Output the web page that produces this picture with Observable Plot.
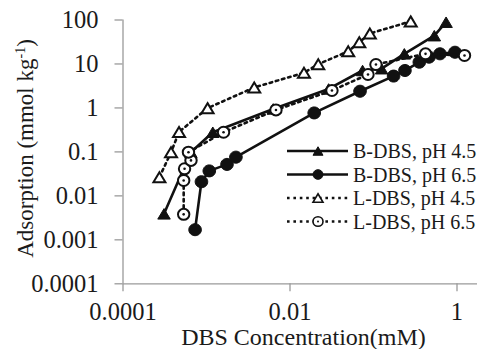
<!DOCTYPE html>
<html>
<head>
<meta charset="utf-8">
<script src="https://cdn.jsdelivr.net/npm/d3@7"></script>
<script src="https://cdn.jsdelivr.net/npm/@observablehq/plot@0.6"></script>
<style>
  html, body { margin: 0; padding: 0; background: #fff; }
  #chart svg { display: block; }
  #chart svg, #chart svg text { font-family: "Times New Roman", serif; }
</style>
</head>
<body>
<div id="chart"></div>
<script>
// DBS concentration (mM) and adsorption (mmol kg-1) per series
const bx45 = [3.1e-4, 6.5e-4, 1.19e-3, 6.3e-3, 0.029, 0.074, 0.125, 0.234, 0.535, 0.74];
const by45 = [0.0039, 0.098, 0.28, 0.95, 2.7, 7.1, 7.8, 17, 44, 89];

const bx65 = [7.3e-4, 8.7e-4, 1.08e-3, 1.76e-3, 2.25e-3, 0.0195, 0.069, 0.174, 0.238, 0.354, 0.462, 0.625, 0.946];
const by65 = [0.0017, 0.021, 0.037, 0.052, 0.076, 0.77, 2.4, 5.3, 7.1, 11, 14.3, 17, 18.5];

const lx45 = [2.73e-4, 3.76e-4, 4.69e-4, 1.03e-3, 3.73e-3, 0.0147, 0.0218, 0.0498, 0.0676, 0.0904, 0.279];
const ly45 = [0.0266, 0.098, 0.284, 0.99, 2.92, 6.3, 9.9, 19.4, 31.3, 49.3, 93];

const lx65 = [5.33e-4, 5.33e-4, 5.46e-4, 6.52e-4, 6.08e-4, 1.6e-3, 6.79e-3, 0.0318, 0.0859, 0.107, 0.42, 1.23];
const ly65 = [0.0038, 0.0224, 0.0413, 0.064, 0.0985, 0.28, 0.9, 2.49, 5.76, 9.73, 17, 15.6];

const seriesNames = ["B-DBS, pH 4.5", "B-DBS, pH 6.5", "L-DBS, pH 4.5", "L-DBS, pH 6.5"];

const xTicks = [1e-4, 1e-2, 1];
const xTickLabels = ["0.0001", "0.01", "1"];
const yTicks = [1e-4, 1e-3, 1e-2, 1e-1, 1, 10, 100];
const yTickLabels = ["0.0001", "0.001", "0.01", "0.1", "1", "10", "100"];

const xLabel = "DBS Concentration(mM)";
const yLabelMain = "Adsorption (mmol kg";
const yLabelSup = "-1";
const yLabelEnd = ")";

// marker shapes
function ellipse(rx, ry) {
  return {
    draw(ctx) {
      const k = 0.5523;
      ctx.moveTo(rx, 0);
      ctx.bezierCurveTo(rx, ry * k, rx * k, ry, 0, ry);
      ctx.bezierCurveTo(-rx * k, ry, -rx, ry * k, -rx, 0);
      ctx.bezierCurveTo(-rx, -ry * k, -rx * k, -ry, 0, -ry);
      ctx.bezierCurveTo(rx * k, -ry, rx, -ry * k, rx, 0);
      ctx.closePath();
    }
  };
}
function triangle(w, h) {
  return {
    draw(ctx) {
      ctx.moveTo(0, -h / 2);
      ctx.lineTo(w / 2, h / 2);
      ctx.lineTo(-w / 2, h / 2);
      ctx.closePath();
    }
  };
}

const toRows = (xs, ys) => xs.map((x, i) => ({x, y: ys[i]}));
const series = [
  {name: seriesNames[0], rows: toRows(bx45, by45), dotted: false, marker: "triFill"},
  {name: seriesNames[1], rows: toRows(bx65, by65), dotted: false, marker: "circFill"},
  {name: seriesNames[2], rows: toRows(lx45, ly45), dotted: true, marker: "triOpen"},
  {name: seriesNames[3], rows: toRows(lx65, ly65), dotted: true, marker: "circOpen"}
];

const axisGray = "#9a9a9a";
const ink = "#111";
const dash = "2.6 3.8";
const serif = '"Times New Roman", serif';

function markerMarks(rows, kind, s) {
  if (kind === "triFill")
    return [Plot.dot(rows, {x: "x", y: "y", symbol: triangle(12.5 * s, 10.5 * s), fill: ink, stroke: ink, strokeWidth: 1})];
  if (kind === "circFill")
    return [Plot.dot(rows, {x: "x", y: "y", symbol: ellipse(6.3 * s, 6 * s), fill: ink, stroke: ink, strokeWidth: 1})];
  if (kind === "triOpen")
    return [Plot.dot(rows, {x: "x", y: "y", symbol: triangle(12 * s, 10 * s), fill: "white", stroke: ink, strokeWidth: 2})];
  return [
    Plot.dot(rows, {x: "x", y: "y", symbol: ellipse(5.7 * s, 5.5 * s), fill: "white", stroke: ink, strokeWidth: 2}),
    Plot.dot(rows, {x: "x", y: "y", r: 1.3, fill: ink, stroke: "none"})
  ];
}

const dataMarks = series.flatMap(sr => [
  Plot.line(sr.rows, {x: "x", y: "y", stroke: ink, strokeWidth: 2.6,
    strokeDasharray: sr.dotted ? dash : null}),
  ...markerMarks(sr.rows, sr.marker, 1)
]);

const chart = Plot.plot({
  width: 477,
  height: 349,
  marginLeft: 122.5,
  marginRight: 0,
  marginTop: 19.5,
  marginBottom: 65.7,
  x: {type: "log", domain: [1e-4, 1.76]},
  y: {type: "log", domain: [1e-4, 100]},
  style: {
    fontFamily: serif,
    fontSize: "24.5px",
    background: "white",
    color: "#1a1a1a"
  },
  marks: [
    Plot.axisX({ticks: xTicks, tickFormat: d => xTickLabels[xTicks.indexOf(d)],
      tickSize: 8, tickPadding: 11, stroke: axisGray, strokeWidth: 1.3, fill: "#1a1a1a",
      fontFamily: serif, label: null}),
    Plot.axisY({ticks: yTicks, tickFormat: d => yTickLabels[yTicks.indexOf(d)],
      tickSize: 8, tickPadding: 16.5, stroke: axisGray, strokeWidth: 1.3, fill: "#1a1a1a",
      fontFamily: serif, label: null}),
    Plot.ruleX([1e-4], {y1: 1e-4, y2: 100, stroke: axisGray, strokeWidth: 1.3}),
    Plot.ruleY([1e-4], {stroke: axisGray, strokeWidth: 1.3}),
    ...dataMarks
  ]
});

document.getElementById("chart").appendChild(chart);

// axis titles
const svg = d3.select(chart);
svg.append("text")
  .attr("x", 303.5).attr("y", 345)
  .attr("text-anchor", "middle")
  .attr("font-family", serif)
  .attr("font-size", 24)
  .attr("fill", "#1a1a1a")
  .text(xLabel);

const yl = svg.append("text")
  .attr("transform", "translate(33,148.5) rotate(-90)")
  .attr("text-anchor", "middle")
  .attr("font-family", serif)
  .attr("font-size", 23)
  .attr("fill", "#1a1a1a");
yl.append("tspan").text(yLabelMain);
yl.append("tspan").attr("font-size", 14).attr("dy", -8).text(yLabelSup);
yl.append("tspan").attr("dy", 8).text(yLabelEnd);

// legend, drawn with the same marker shapes at a smaller size
const legendRowsY = [151, 174.5, 198, 221.5];
const lg = svg.append("g");
series.forEach((sr, i) => {
  const cy = legendRowsY[i];
  lg.append("line")
    .attr("x1", 287).attr("x2", 348).attr("y1", cy).attr("y2", cy)
    .attr("stroke", ink).attr("stroke-width", 2.6)
    .attr("stroke-dasharray", sr.dotted ? dash : null);
  const p = d3.path();
  const sym = sr.marker.startsWith("tri") ? triangle(10, 8.5) : ellipse(5, 4.8);
  sym.draw(p);
  const filled = sr.marker.endsWith("Fill");
  lg.append("path")
    .attr("transform", `translate(318,${cy})`)
    .attr("d", p.toString())
    .attr("fill", filled ? ink : "white")
    .attr("stroke", ink)
    .attr("stroke-width", filled ? 1 : 1.6);
  if (sr.marker === "circOpen")
    lg.append("circle").attr("cx", 318).attr("cy", cy).attr("r", 1).attr("fill", ink);
  lg.append("text")
    .attr("x", 353).attr("y", cy).attr("dy", "0.35em")
    .attr("text-anchor", "start")
    .attr("font-family", serif)
    .attr("font-size", 20)
    .attr("fill", "#1a1a1a")
    .text(sr.name);
});
</script>
</body>
</html>
